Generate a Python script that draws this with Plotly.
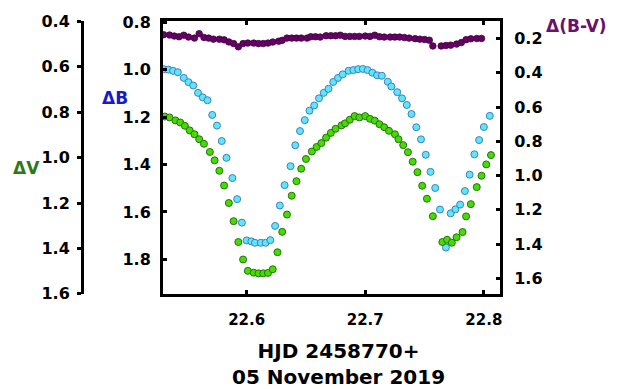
import plotly.graph_objects as go

# HJD - 2458770 (cyan, ΔB)
hjd_b = [22.530, 22.534, 22.538, 22.542, 22.547, 22.551, 22.555, 22.559, 22.563, 22.567,
         22.571, 22.575, 22.579, 22.583, 22.588, 22.592, 22.596, 22.600, 22.604, 22.607,
         22.612, 22.616, 22.620, 22.624, 22.628, 22.632, 22.637, 22.641, 22.645, 22.649,
         22.653, 22.657, 22.661, 22.665, 22.669, 22.673, 22.677, 22.681, 22.686, 22.690,
         22.694, 22.698, 22.702, 22.706, 22.710, 22.714, 22.719, 22.722, 22.727, 22.731,
         22.735, 22.739, 22.743, 22.747, 22.751, 22.755, 22.759, 22.763, 22.768, 22.772,
         22.776, 22.780, 22.784, 22.788, 22.792, 22.796, 22.800, 22.805]
delta_b = [0.998, 1.000, 1.005, 1.011, 1.035, 1.053, 1.067, 1.098, 1.117, 1.129,
           1.191, 1.236, 1.301, 1.372, 1.457, 1.546, 1.645, 1.720, 1.724, 1.730,
           1.730, 1.730, 1.719, 1.659, 1.573, 1.487, 1.407, 1.319, 1.259, 1.213,
           1.173, 1.151, 1.121, 1.098, 1.081, 1.052, 1.035, 1.020, 1.005, 1.002,
           0.998, 0.997, 1.002, 1.013, 1.024, 1.026, 1.051, 1.071, 1.095, 1.121,
           1.149, 1.187, 1.243, 1.294, 1.359, 1.431, 1.499, 1.590, 1.750, 1.606,
           1.589, 1.569, 1.512, 1.443, 1.357, 1.297, 1.242, 1.195]

# green, ΔV
hjd_v = [22.531, 22.535, 22.540, 22.544, 22.548, 22.552, 22.556, 22.560, 22.564, 22.569,
         22.573, 22.577, 22.581, 22.585, 22.589, 22.593, 22.597, 22.601, 22.606, 22.610,
         22.614, 22.618, 22.622, 22.626, 22.630, 22.634, 22.638, 22.642, 22.646, 22.650,
         22.655, 22.659, 22.663, 22.667, 22.671, 22.675, 22.680, 22.683, 22.687, 22.691,
         22.695, 22.700, 22.704, 22.708, 22.712, 22.716, 22.720, 22.725, 22.728, 22.732,
         22.736, 22.740, 22.744, 22.748, 22.752, 22.757, 22.765, 22.769, 22.773, 22.777,
         22.782, 22.785, 22.789, 22.794, 22.798, 22.802, 22.806]
delta_v = [0.819, 0.823, 0.836, 0.845, 0.860, 0.880, 0.897, 0.919, 0.939, 0.975,
           1.012, 1.058, 1.123, 1.200, 1.280, 1.372, 1.449, 1.499, 1.507, 1.510,
           1.510, 1.508, 1.492, 1.417, 1.327, 1.251, 1.168, 1.104, 1.049, 1.006,
           0.973, 0.953, 0.936, 0.912, 0.891, 0.873, 0.858, 0.849, 0.833, 0.817,
           0.823, 0.817, 0.829, 0.837, 0.853, 0.866, 0.882, 0.897, 0.919, 0.945,
           0.976, 1.018, 1.064, 1.124, 1.181, 1.258, 1.372, 1.362, 1.375, 1.351,
           1.328, 1.259, 1.205, 1.130, 1.080, 1.030, 0.989]

# purple, Δ(B-V)
hjd_bv = [22.530, 22.535, 22.539, 22.543, 22.547, 22.551, 22.556, 22.560, 22.564, 22.568,
          22.572, 22.577, 22.581, 22.585, 22.589, 22.593, 22.597, 22.601, 22.606, 22.610,
          22.614, 22.618, 22.622, 22.627, 22.630, 22.634, 22.638, 22.642, 22.646, 22.651,
          22.654, 22.658, 22.662, 22.667, 22.671, 22.675, 22.679, 22.683, 22.687, 22.691,
          22.695, 22.700, 22.704, 22.708, 22.712, 22.716, 22.721, 22.725, 22.729, 22.733,
          22.737, 22.742, 22.746, 22.750, 22.754, 22.757, 22.764, 22.768, 22.772, 22.777,
          22.781, 22.785, 22.789, 22.794, 22.798]
delta_bv = [0.177, 0.179, 0.185, 0.189, 0.180, 0.191, 0.197, 0.171, 0.193, 0.197,
            0.203, 0.203, 0.207, 0.219, 0.229, 0.248, 0.229, 0.226, 0.226, 0.229,
            0.229, 0.226, 0.220, 0.215, 0.210, 0.197, 0.197, 0.197, 0.197, 0.197,
            0.189, 0.189, 0.191, 0.183, 0.183, 0.183, 0.180, 0.187, 0.187, 0.187,
            0.187, 0.185, 0.187, 0.180, 0.189, 0.191, 0.191, 0.191, 0.191, 0.194,
            0.197, 0.200, 0.203, 0.205, 0.209, 0.243, 0.243, 0.240, 0.238, 0.232,
            0.223, 0.206, 0.201, 0.199, 0.199]

x_ticks = [22.6, 22.7, 22.8]
b_ticks = [0.8, 1.0, 1.2, 1.4, 1.6, 1.8]
v_ticks = [0.4, 0.6, 0.8, 1.0, 1.2, 1.4, 1.6]
bv_ticks = [0.2, 0.4, 0.6, 0.8, 1.0, 1.2, 1.4, 1.6]

FONT = "DejaVu Sans"
xtickfont = dict(family=FONT, size=15, color="black", weight="bold")
ytickfont = dict(family=FONT, size=16, color="black", weight="bold")

fig = go.Figure()
fig.add_trace(go.Scatter(x=hjd_bv, y=delta_bv, mode="markers", yaxis="y3",
                         marker=dict(size=6.5, color="#660066", line=dict(color="#3d003d", width=0.8)),
                         showlegend=False))
fig.add_trace(go.Scatter(x=hjd_b, y=delta_b, mode="markers", yaxis="y",
                         marker=dict(size=7, color="#5ee6fa", line=dict(color="#3f7fc0", width=1)),
                         showlegend=False))
fig.add_trace(go.Scatter(x=hjd_v, y=delta_v, mode="markers", yaxis="y2",
                         marker=dict(size=7, color="#44dd00", line=dict(color="#2a6e10", width=1)),
                         showlegend=False))

axis_common = dict(showgrid=False, zeroline=False, showline=True, linecolor="black",
                   linewidth=3, tickcolor="black", tickwidth=3, ticklen=4,
                   tickformat=".1f")

fig.update_layout(
    width=620, height=389,
    margin=dict(l=82, r=120, t=16, b=95),
    paper_bgcolor="white", plot_bgcolor="white",
    font=dict(family=FONT),
    xaxis=dict(domain=[0.1938, 1], range=[22.5295, 22.8136], tickvals=x_ticks,
               ticks="inside", mirror="ticks", ticklabelstandoff=10,
               tickfont=xtickfont, **axis_common),
    yaxis=dict(range=[1.946, 0.795], tickvals=b_ticks, ticks="inside", side="left",
               anchor="x", ticklabelstandoff=6, tickfont=ytickfont, **axis_common),
    yaxis2=dict(range=[1.601, 0.398], tickvals=v_ticks, ticks="outside", side="left",
                anchor="free", position=0, overlaying="y", ticklabelstandoff=4,
                tickfont=ytickfont, **axis_common),
    yaxis3=dict(range=[1.692, 0.097], tickvals=bv_ticks, ticks="inside", side="right",
                anchor="x", overlaying="y", ticklabelstandoff=8,
                tickfont=ytickfont, **axis_common),
    annotations=[
        dict(text="<b>HJD 2458770+</b><br><b>05 November 2019</b>", xref="paper", yref="paper",
             x=0.6148, y=-0.2554, xanchor="center", yanchor="middle", showarrow=False,
             font=dict(family=FONT, size=20, color="black")),
        dict(text="<b>ΔV</b>", xref="paper", yref="paper", x=-0.1328, y=0.4604,
             xanchor="center", yanchor="middle", showarrow=False,
             font=dict(family=FONT, size=17, color="#2a7a1a")),
        dict(text="<b>ΔB</b>", xref="paper", yref="paper", x=0.0778, y=0.7194,
             xanchor="center", yanchor="middle", showarrow=False,
             font=dict(family=FONT, size=17, color="#1a1acc")),
        dict(text="<b>Δ(B-V)</b>", xref="paper", yref="paper", x=1.1842, y=0.98,
             xanchor="center", yanchor="middle", showarrow=False,
             font=dict(family=FONT, size=17, color="#6a106e")),
    ],
)

fig.write_html("out.html", config={"displayModeBar": False},
               post_script="document.body.style.margin='0px';")
